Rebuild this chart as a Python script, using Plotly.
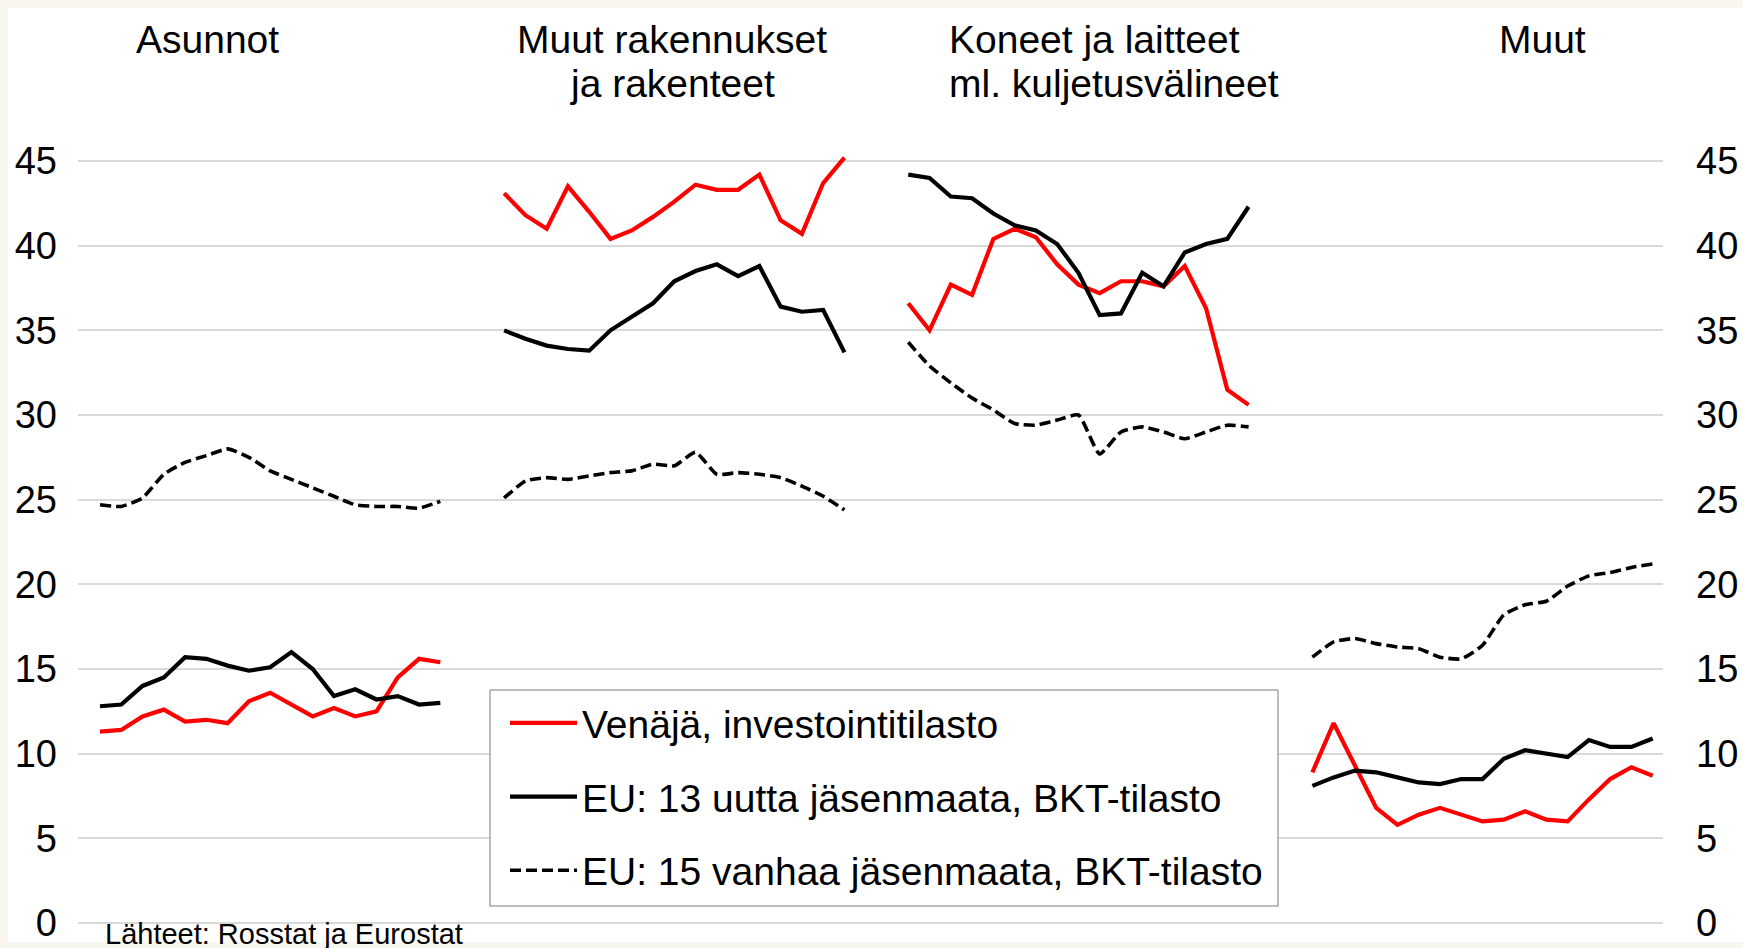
import plotly.graph_objects as go

# ---------------- data ----------------
years = list(range(2000, 2017))
groups = ["Asunnot", "Muut rakennukset ja rakenteet",
          "Koneet ja laitteet ml. kuljetusvälineet", "Muut"]
series_names = ["Venäjä, investointitilasto",
                "EU: 13 uutta jäsenmaata, BKT-tilasto",
                "EU: 15 vanhaa jäsenmaata, BKT-tilasto"]

asunnot_ru = [11.3, 11.4, 12.2, 12.6, 11.9, 12.0, 11.8, 13.1, 13.6, 12.9, 12.2, 12.7, 12.2, 12.5, 14.5, 15.6, 15.4]
asunnot_new = [12.8, 12.9, 14.0, 14.5, 15.7, 15.6, 15.2, 14.9, 15.1, 16.0, 15.0, 13.4, 13.8, 13.2, 13.4, 12.9, 13.0]
asunnot_old = [24.7, 24.6, 25.1, 26.5, 27.2, 27.6, 28.0, 27.5, 26.7, 26.2, 25.7, 25.2, 24.7, 24.6, 24.6, 24.5, 24.9]

muut_rak_ru = [43.1, 41.8, 41.0, 43.5, 42.0, 40.4, 40.9, 41.7, 42.6, 43.6, 43.3, 43.3, 44.2, 41.5, 40.7, 43.7, 45.2]
muut_rak_new = [35.0, 34.5, 34.1, 33.9, 33.8, 35.0, 35.8, 36.6, 37.9, 38.5, 38.9, 38.2, 38.8, 36.4, 36.1, 36.2, 33.7]
muut_rak_old = [25.1, 26.1, 26.3, 26.2, 26.4, 26.6, 26.7, 27.1, 27.0, 27.8, 26.5, 26.6, 26.5, 26.3, 25.8, 25.2, 24.4]

koneet_ru = [36.6, 35.0, 37.7, 37.1, 40.4, 41.0, 40.5, 38.9, 37.7, 37.2, 37.9, 37.9, 37.6, 38.8, 36.3, 31.5, 30.6]
koneet_new = [44.2, 44.0, 42.9, 42.8, 41.9, 41.2, 40.9, 40.1, 38.4, 35.9, 36.0, 38.4, 37.6, 39.6, 40.1, 40.4, 42.3]
koneet_old = [34.3, 32.9, 31.9, 31.0, 30.3, 29.5, 29.4, 29.7, 30.0, 27.7, 29.0, 29.3, 29.0, 28.6, 29.0, 29.4, 29.3]

muut_ru = [8.9, 11.8, 9.3, 6.8, 5.8, 6.4, 6.8, 6.4, 6.0, 6.1, 6.6, 6.1, 6.0, 7.3, 8.5, 9.2, 8.7]
muut_new = [8.1, 8.6, 9.0, 8.9, 8.6, 8.3, 8.2, 8.5, 8.5, 9.7, 10.2, 10.0, 9.8, 10.8, 10.4, 10.4, 10.9]
muut_old = [15.7, 16.6, 16.8, 16.5, 16.3, 16.2, 15.7, 15.6, 16.4, 18.2, 18.8, 19.0, 19.9, 20.5, 20.7, 21.0, 21.2]

y_ticks = [0, 5, 10, 15, 20, 25, 30, 35, 40, 45]
source_text = "Lähteet: Rosstat ja Eurostat"

ru_all = [asunnot_ru, muut_rak_ru, koneet_ru, muut_ru]
new_all = [asunnot_new, muut_rak_new, koneet_new, muut_new]
old_all = [asunnot_old, muut_rak_old, koneet_old, muut_old]

GAP = 2  # empty category slots between panels


def build(series_list):
    xs, ys, texts = [], [], []
    for g, vals in enumerate(series_list):
        if g > 0:
            xs.append(None); ys.append(None); texts.append(None)
        base = g * (len(years) + GAP)
        for i, v in enumerate(vals):
            xs.append(base + i); ys.append(v)
            texts.append(f"{groups[g]}, {years[i]}")
    return xs, ys, texts


# ---------------- geometry ----------------
W, H = 1743, 948
PL, PR = 78, 1663          # plot area px
PT, PB = 152, 928
x_first_px, slot_px = 100.0, 21.27
y0_px, unit_px = 923.0, 16.933

x_range = [(PL - x_first_px) / slot_px, (PR - x_first_px) / slot_px]
y_range = [(y0_px - PB) / unit_px, (y0_px - PT) / unit_px]


def px2x(px):
    return (px - PL) / (PR - PL)


def py2y(py):
    return (PB - py) / (PB - PT)


FONT = "Liberation Sans, Arial, sans-serif"
BEIGE = "#f9f5ef"

fig = go.Figure()
styles = [
    dict(color="#ff0000", width=4.2, dash="solid"),
    dict(color="#000000", width=4.2, dash="solid"),
    dict(color="#000000", width=3.6, dash="11px,5px"),
]
for k, (name, data) in enumerate(zip(series_names, [ru_all, new_all, old_all])):
    xs, ys, texts = build(data)
    fig.add_trace(go.Scatter(
        x=xs, y=ys, text=texts, mode="lines", name=name,
        line=dict(**styles[k], shape="spline" if k == 2 else "linear",
                  smoothing=0.5 if k == 2 else 1),
        connectgaps=False, legendgroup=f"g{k}",
        hovertemplate="%{text}: %{y}<extra></extra>",
    ))

# invisible trace for the right-hand axis
fig.add_trace(go.Scatter(x=[None], y=[None], yaxis="y2", showlegend=False,
                         hoverinfo="skip"))

annotations = []


def ann(text, px, py, size, anchor="center"):
    annotations.append(dict(text=text, x=px2x(px), y=py2y(py), xref="paper",
                            yref="paper", showarrow=False, xanchor=anchor,
                            yanchor="middle", font=dict(size=size, color="black",
                                                        family=FONT)))


ann("Asunnot", 207, 39, 39)
ann("Muut rakennukset", 672, 39, 39)
ann("ja rakenteet", 672, 83, 39)
ann("Koneet ja laitteet", 947, 39, 39, "left")
ann("ml. kuljetusvälineet", 947, 83, 39, "left")
ann("Muut", 1542, 39, 39)
ann(source_text, 103, 934, 29, "left")

shapes = [
    # white chart panel on beige page
    dict(type="rect", xref="paper", yref="paper", layer="below",
         x0=px2x(8), x1=px2x(1760), y0=py2y(942), y1=py2y(8),
         fillcolor="white", line=dict(width=0)),
    # legend frame
    dict(type="rect", xref="paper", yref="paper", layer="above",
         x0=px2x(490), x1=px2x(1278), y0=py2y(906), y1=py2y(690),
         fillcolor="white", line=dict(color="#a6a6a6", width=1.5)),
]

fig.update_layout(
    width=W, height=H,
    margin=dict(l=PL, r=W - PR, t=PT, b=H - PB, autoexpand=False),
    paper_bgcolor=BEIGE, plot_bgcolor="rgba(0,0,0,0)",
    font=dict(family=FONT, color="black"),
    xaxis=dict(range=x_range, showgrid=False, zeroline=False,
               showticklabels=False, showline=False, ticks=""),
    yaxis=dict(range=y_range, tickvals=y_ticks, showgrid=True,
               gridcolor="#d9d9d9", gridwidth=1.5, zeroline=True,
               zerolinecolor="#d9d9d9", zerolinewidth=1.5, ticks="",
               tickfont=dict(size=38, family=FONT, color="black"),
               ticklabelstandoff=20, showline=False),
    yaxis2=dict(range=y_range, tickvals=y_ticks, overlaying="y", side="right",
                showgrid=False, zeroline=False, ticks="",
                tickfont=dict(size=38, family=FONT, color="black"),
                ticklabelstandoff=32, showline=False),
    legend=dict(x=px2x(505), y=py2y(691), xanchor="left", yanchor="top",
                bgcolor="rgba(0,0,0,0)", borderwidth=0,
                font=dict(size=39, family=FONT, color="black"),
                tracegroupgap=20, itemwidth=67),
    annotations=annotations, shapes=shapes, showlegend=True,
)

fig.write_html(
    "out.html",
    config={"displayModeBar": False},
    post_script="document.body.style.margin='0';"
                "document.body.style.background='" + BEIGE + "';",
)
